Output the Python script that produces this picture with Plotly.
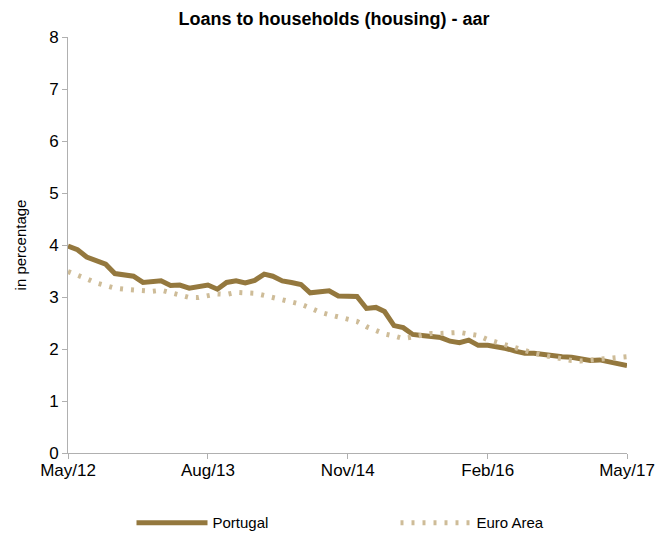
import plotly.graph_objects as go

months = [f"{y}-{m:02d}-01" for y in range(2012, 2018) for m in range(1, 13)]
months = months[4:4 + 61]  # May 2012 .. May 2017

portugal = [3.98, 3.91, 3.77, 3.70, 3.63, 3.45, 3.43, 3.40, 3.28, 3.30,
            3.31, 3.22, 3.23, 3.17, 3.20, 3.23, 3.15, 3.28, 3.31, 3.27,
            3.32, 3.44, 3.40, 3.31, 3.28, 3.24, 3.08, 3.10, 3.12, 3.02,
            3.02, 3.01, 2.78, 2.80, 2.72, 2.45, 2.41, 2.28, 2.26, 2.24,
            2.22, 2.15, 2.12, 2.17, 2.07, 2.07, 2.05, 2.01, 1.96, 1.92,
            1.92, 1.89, 1.86, 1.85, 1.84, 1.82, 1.78, 1.79, 1.75, 1.71,
            1.68]

euro_area = [3.49, 3.43, 3.35, 3.27, 3.22, 3.17, 3.15, 3.14, 3.11, 3.11,
             3.13, 3.09, 3.03, 2.99, 2.99, 3.02, 3.06, 3.05, 3.09, 3.08,
             3.07, 3.03, 2.99, 2.96, 2.92, 2.86, 2.79, 2.71, 2.66, 2.61,
             2.57, 2.53, 2.43, 2.35, 2.29, 2.25, 2.20, 2.23, 2.27, 2.30,
             2.30, 2.31, 2.32, 2.29, 2.26, 2.18, 2.13, 2.08, 2.02, 1.95,
             1.92, 1.88, 1.84, 1.80, 1.78, 1.77, 1.79, 1.81, 1.82, 1.84,
             1.85]

tick_vals = ["2012-05-01", "2013-08-01", "2014-11-01", "2016-02-01", "2017-05-01"]
tick_text = ["May/12", "Aug/13", "Nov/14", "Feb/16", "May/17"]

FONT = "Liberation Sans, Arial, sans-serif"

fig = go.Figure()
fig.add_trace(go.Scatter(x=months, y=portugal, name="Portugal", mode="lines",
                         line=dict(color="rgb(148,120,62)", width=5)))
fig.add_trace(go.Scatter(x=months, y=euro_area, name="Euro Area", mode="lines",
                         line=dict(color="rgb(206,188,152)", width=5, dash="3px,8px")))

fig.update_layout(
    width=670, height=538,
    margin=dict(l=60, r=51, t=29, b=93, autoexpand=False),
    paper_bgcolor="white", plot_bgcolor="white",
    font=dict(family=FONT, color="black", size=16),
    title=dict(text="<b>Loans to households (housing) - aar</b>",
               x=0.4866, xanchor="center", y=0.98, yanchor="middle",
               font=dict(family=FONT, size=18, color="black")),
    xaxis=dict(type="date", range=["2012-05-01", "2017-05-01"],
               tickvals=tick_vals, ticktext=tick_text,
               showgrid=False, zeroline=False, automargin=False,
               showline=True, linecolor="#b0b0b0", linewidth=1,
               ticks="outside", ticklen=5, tickcolor="#b0b0b0",
               ticklabelstandoff=-3,
               tickfont=dict(size=17)),
    yaxis=dict(range=[0, 8], dtick=1, showgrid=False, zeroline=False, automargin=False,
               showline=True, linecolor="#b0b0b0", linewidth=1,
               ticks="outside", ticklen=5, tickcolor="#b0b0b0",
               tickfont=dict(size=17),
               title=dict(text="in percentage", font=dict(size=15), standoff=18)),
    legend=dict(orientation="h", x=0.1136, xanchor="left", y=-0.168, yanchor="middle",
                font=dict(size=15), entrywidth=178, entrywidthmode="pixels",
                itemwidth=71),
    showlegend=True,
)

fig.write_html("out.html")
